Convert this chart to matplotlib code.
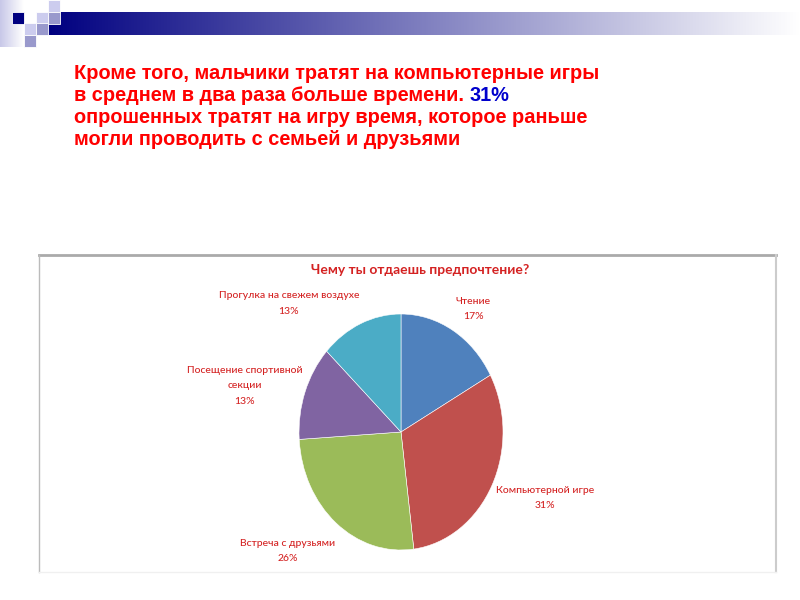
import matplotlib
matplotlib.use('Agg')
import matplotlib.pyplot as plt
import numpy as np
from matplotlib.patches import Rectangle

# pie data
labels = ['Чтение', 'Компьютерной игре', 'Встреча с друзьями',
          'Посещение спортивной\nсекции', 'Прогулка на свежем воздухе']
values = [17, 31, 26, 13, 13]
colors = ['#4F81BD', '#C0504D', '#9BBB59', '#8064A2', '#4BACC6']
# label centres in pie data units (radius = 1)
label_pos = [(0.71, 1.04), (1.41, -0.56), (-1.11, -1.01), (-1.53, 0.39), (-1.10, 1.09)]

chart_title = 'Чему ты отдаешь предпочтение?'
text_lines = ['Кроме того, мальчики тратят на компьютерные игры',
              'в среднем в два раза больше времени. ',
              'опрошенных тратят на игру время, которое раньше',
              'могли проводить с семьей и друзьями']
highlight = '31%'

W, H = 800, 600
fig = plt.figure(figsize=(8, 6), dpi=100)

# background axes in pixel coordinates (y down)
bg = fig.add_axes([0, 0, 1, 1])
bg.set_xlim(0, W)
bg.set_ylim(H, 0)
bg.axis('off')

# top gradient bar
grad = np.linspace(0, 1, 400)
navy = np.array([0, 0, 128]) / 255
img = (navy[None, :] * (1 - grad[:, None]) + grad[:, None])[None, :, :]
bg.imshow(img, extent=[48, 800, 35, 12], aspect='auto', zorder=1)

# left faint gradient strip
g2 = np.linspace(0, 1, 50)
lav = np.array([200, 200, 232]) / 255
img2 = (lav[None, :] * (1 - g2[:, None]) + g2[:, None])[None, :, :]
bg.imshow(img2, extent=[0, 24, 47, 0], aspect='auto', zorder=1)

light = '#CCCCEE'
mid = '#9999CC'
squares = [(12, 12, '#000080'), (36, 12, light), (48, 0, light), (48, 12, mid),
           (24, 23, light), (36, 23, mid), (24, 35, mid)]
for x, y, c in squares:
    bg.add_patch(Rectangle((x, y), 12, 12, facecolor=c, edgecolor='white',
                           linewidth=0.6, zorder=2))

# chart frame
bg.plot([39, 776], [255, 255], color='#AAAAAA', lw=2, zorder=2)
bg.plot([39, 39], [255, 572], color='#BBBBBB', lw=1, zorder=2)
bg.plot([776, 776], [255, 572], color='#CCCCCC', lw=1.5, zorder=2)
bg.plot([39, 776], [572, 572], color='#F0F0F0', lw=1, zorder=2)

# slide text
fig.canvas.draw()
renderer = fig.canvas.get_renderer()
baselines = [79, 101, 123, 145]
for line, yb in zip(text_lines, baselines):
    t = bg.text(74, yb, line, color='#FF0000', fontsize=14.4, fontweight='bold',
                family='Liberation Sans', va='baseline', ha='left')
    if line.endswith('. '):
        bb = t.get_window_extent(renderer)
        bg.text(bb.x1, yb, highlight, color='#0000CC', fontsize=14.4, fontweight='bold',
                family='Liberation Sans', va='baseline', ha='left')

bg.text(420, 270, chart_title, color='#D42222', fontsize=10, fontweight='bold',
        family='Lato', ha='center', va='center')

# pie axes: horizontal radius 102 px, vertical 118 px, centre (401, 432)
cx, cy, rx, ry = 401, 432, 102, 118
ax = fig.add_axes([(cx - rx) / W, (H - cy - ry) / H, 2 * rx / W, 2 * ry / H])
ax.pie(values, colors=colors, startangle=90, counterclock=False,
       wedgeprops=dict(edgecolor='white', linewidth=0.4))
ax.set_aspect('auto')
ax.set_xlim(-1, 1)
ax.set_ylim(-1, 1)
ax.axis('off')

for lab, v, (lx, ly) in zip(labels, values, label_pos):
    ax.text(lx, ly, f'{lab}\n{v}%', color='#D42222', fontsize=7.5, family='Lato',
            fontweight='medium', ha='center', va='center', linespacing=1.9,
            clip_on=False)

fig.savefig('out.png', dpi=100)
